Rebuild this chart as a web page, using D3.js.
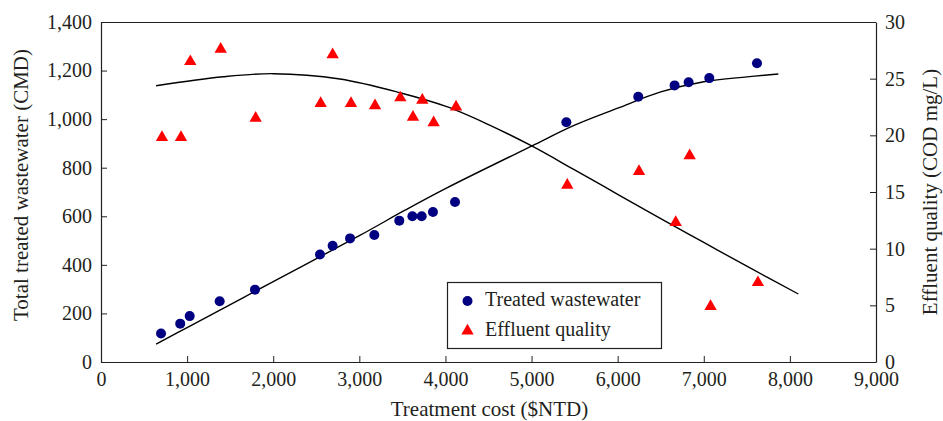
<!doctype html>
<html>
<head>
<meta charset="utf-8">
<title>Treatment cost chart</title>
<script src="https://cdn.jsdelivr.net/npm/d3@7"></script>
<style>
  body { margin: 0; background: #fff; }
  svg text { font-family: "Liberation Serif", "DejaVu Serif", serif; fill: #231f20; }
</style>
</head>
<body>
<svg width="943" height="421"></svg>
<script>
// treated wastewater (CMD) vs cost
var wwCost  = [697, 920, 1030, 1378, 1788, 2543, 2690, 2892, 3174, 3464, 3616, 3724, 3855, 4111, 5404, 6239, 6661, 6824, 7064, 7618];
var wwValue = [117, 158, 189, 250, 298, 443, 479, 509, 523, 582, 600, 600, 618, 659, 987, 1092, 1139, 1152, 1169, 1230];
// effluent quality (COD mg/L) vs cost
var efCost  = [708, 929, 1037, 1390, 1796, 2551, 2690, 2903, 3182, 3476, 3623, 3731, 3863, 4123, 5415, 6248, 6674, 6836, 7079, 7629];
var efValue = [19.9, 19.9, 26.6, 27.7, 21.6, 22.9, 27.2, 22.9, 22.7, 23.4, 21.7, 23.2, 21.2, 22.6, 15.7, 16.9, 12.4, 18.3, 5.0, 7.1];
// fitted trend lines
var wwFitCost  = [640, 1000, 2000, 3000, 3530, 4000, 5000, 5500, 6000, 6500, 7000, 7500, 7866];
var wwFitValue = [74, 142, 331, 520, 625, 714, 889, 975, 1045, 1112, 1154, 1174, 1186];
var efFitCost  = [640, 1420, 2000, 2775, 3472, 4015, 4500, 5002, 5500, 6000, 6500, 7000, 7500, 8098];
var efFitValue = [24.38, 25.17, 25.44, 24.97, 23.76, 22.53, 20.95, 19.06, 16.95, 14.8, 12.65, 10.55, 8.45, 6.0];

var xTicks  = [0, 1000, 2000, 3000, 4000, 5000, 6000, 7000, 8000, 9000];
var yTicks  = [0, 200, 400, 600, 800, 1000, 1200, 1400];
var y2Ticks = [0, 5, 10, 15, 20, 25, 30];

var svg = d3.select("svg");
var plotL = 101, plotR = 876, plotT = 22, plotB = 362;

var x  = d3.scaleLinear().domain([0, 9000]).range([plotL, plotR]);
var y  = d3.scaleLinear().domain([0, 1400]).range([plotB, plotT]);
var y2 = d3.scaleLinear().domain([0, 30]).range([plotB, plotT]);

var fmt = d3.format(",");

// top border
svg.append("line")
    .attr("x1", plotL).attr("x2", plotR).attr("y1", plotT + 0.5).attr("y2", plotT + 0.5)
    .attr("stroke", "#231f20").attr("stroke-width", 1.2);

function styleAxis(g) {
    g.selectAll("path").attr("stroke", "#231f20").attr("stroke-width", 1.2);
    g.selectAll("line").attr("stroke", "#231f20");
    g.selectAll("text").attr("font-size", 20).attr("fill", "#231f20")
        .attr("font-family", "Liberation Serif");
}

svg.append("g")
    .attr("transform", "translate(0," + plotB + ")")
    .call(d3.axisBottom(x).tickValues(xTicks).tickFormat(fmt).tickSizeInner(-6).tickSizeOuter(0).tickPadding(10))
    .call(styleAxis)
    .selectAll("text").attr("dy", "0.71em");

svg.append("g")
    .attr("transform", "translate(" + plotL + ",0)")
    .call(d3.axisLeft(y).tickValues(yTicks).tickFormat(fmt).tickSizeInner(-6).tickSizeOuter(0).tickPadding(9))
    .call(styleAxis);

svg.append("g")
    .attr("transform", "translate(" + plotR + ",0)")
    .call(d3.axisRight(y2).tickValues(y2Ticks).tickSizeInner(-6).tickSizeOuter(0).tickPadding(9))
    .call(styleAxis);

// axis titles
svg.append("text")
    .attr("x", (plotL + plotR) / 2 + 1).attr("y", 416)
    .attr("text-anchor", "middle").attr("font-size", 21)
    .text("Treatment cost ($NTD)");

svg.append("text")
    .attr("transform", "translate(28,185) rotate(-90)")
    .attr("text-anchor", "middle").attr("font-size", 21)
    .text("Total treated wastewater (CMD)");

svg.append("text")
    .attr("transform", "translate(937,192) rotate(-90)")
    .attr("text-anchor", "middle").attr("font-size", 21)
    .text("Effluent quality (COD mg/L)");

// fit lines
var wwLine = d3.line()
    .x(function (d, i) { return x(wwFitCost[i]); })
    .y(function (d) { return y(d); })
    .curve(d3.curveCatmullRom.alpha(0.5));
var efLine = d3.line()
    .x(function (d, i) { return x(efFitCost[i]); })
    .y(function (d) { return y2(d); })
    .curve(d3.curveCatmullRom.alpha(0.5));

svg.append("path").datum(wwFitValue)
    .attr("d", wwLine).attr("fill", "none").attr("stroke", "#000").attr("stroke-width", 1.4);
svg.append("path").datum(efFitValue)
    .attr("d", efLine).attr("fill", "none").attr("stroke", "#000").attr("stroke-width", 1.4);

// points
svg.append("g").selectAll("circle")
    .data(wwValue)
    .enter().append("circle")
    .attr("cx", function (d, i) { return x(wwCost[i]); })
    .attr("cy", function (d) { return y(d); })
    .attr("r", 5)
    .attr("fill", "#000080");

var tri = d3.symbol().type(d3.symbolTriangle).size(66);
svg.append("g").selectAll("path")
    .data(efValue)
    .enter().append("path")
    .attr("d", tri)
    .attr("transform", function (d, i) { return "translate(" + x(efCost[i]) + "," + (y2(d) + 1) + ")"; })
    .attr("fill", "#ff0000");

// legend
var lg = svg.append("g");
lg.append("rect")
    .attr("x", 447.5).attr("y", 282.5).attr("width", 214).attr("height", 66)
    .attr("fill", "#fff").attr("stroke", "#231f20").attr("stroke-width", 1.2);
lg.append("circle").attr("cx", 467.5).attr("cy", 301).attr("r", 5).attr("fill", "#000080");
lg.append("path").attr("d", tri).attr("transform", "translate(467.5,331)").attr("fill", "#ff0000");
lg.append("text").attr("x", 485).attr("y", 306).attr("font-size", 20).text("Treated wastewater");
lg.append("text").attr("x", 485).attr("y", 336).attr("font-size", 20).text("Effluent quality");
</script>
</body>
</html>
